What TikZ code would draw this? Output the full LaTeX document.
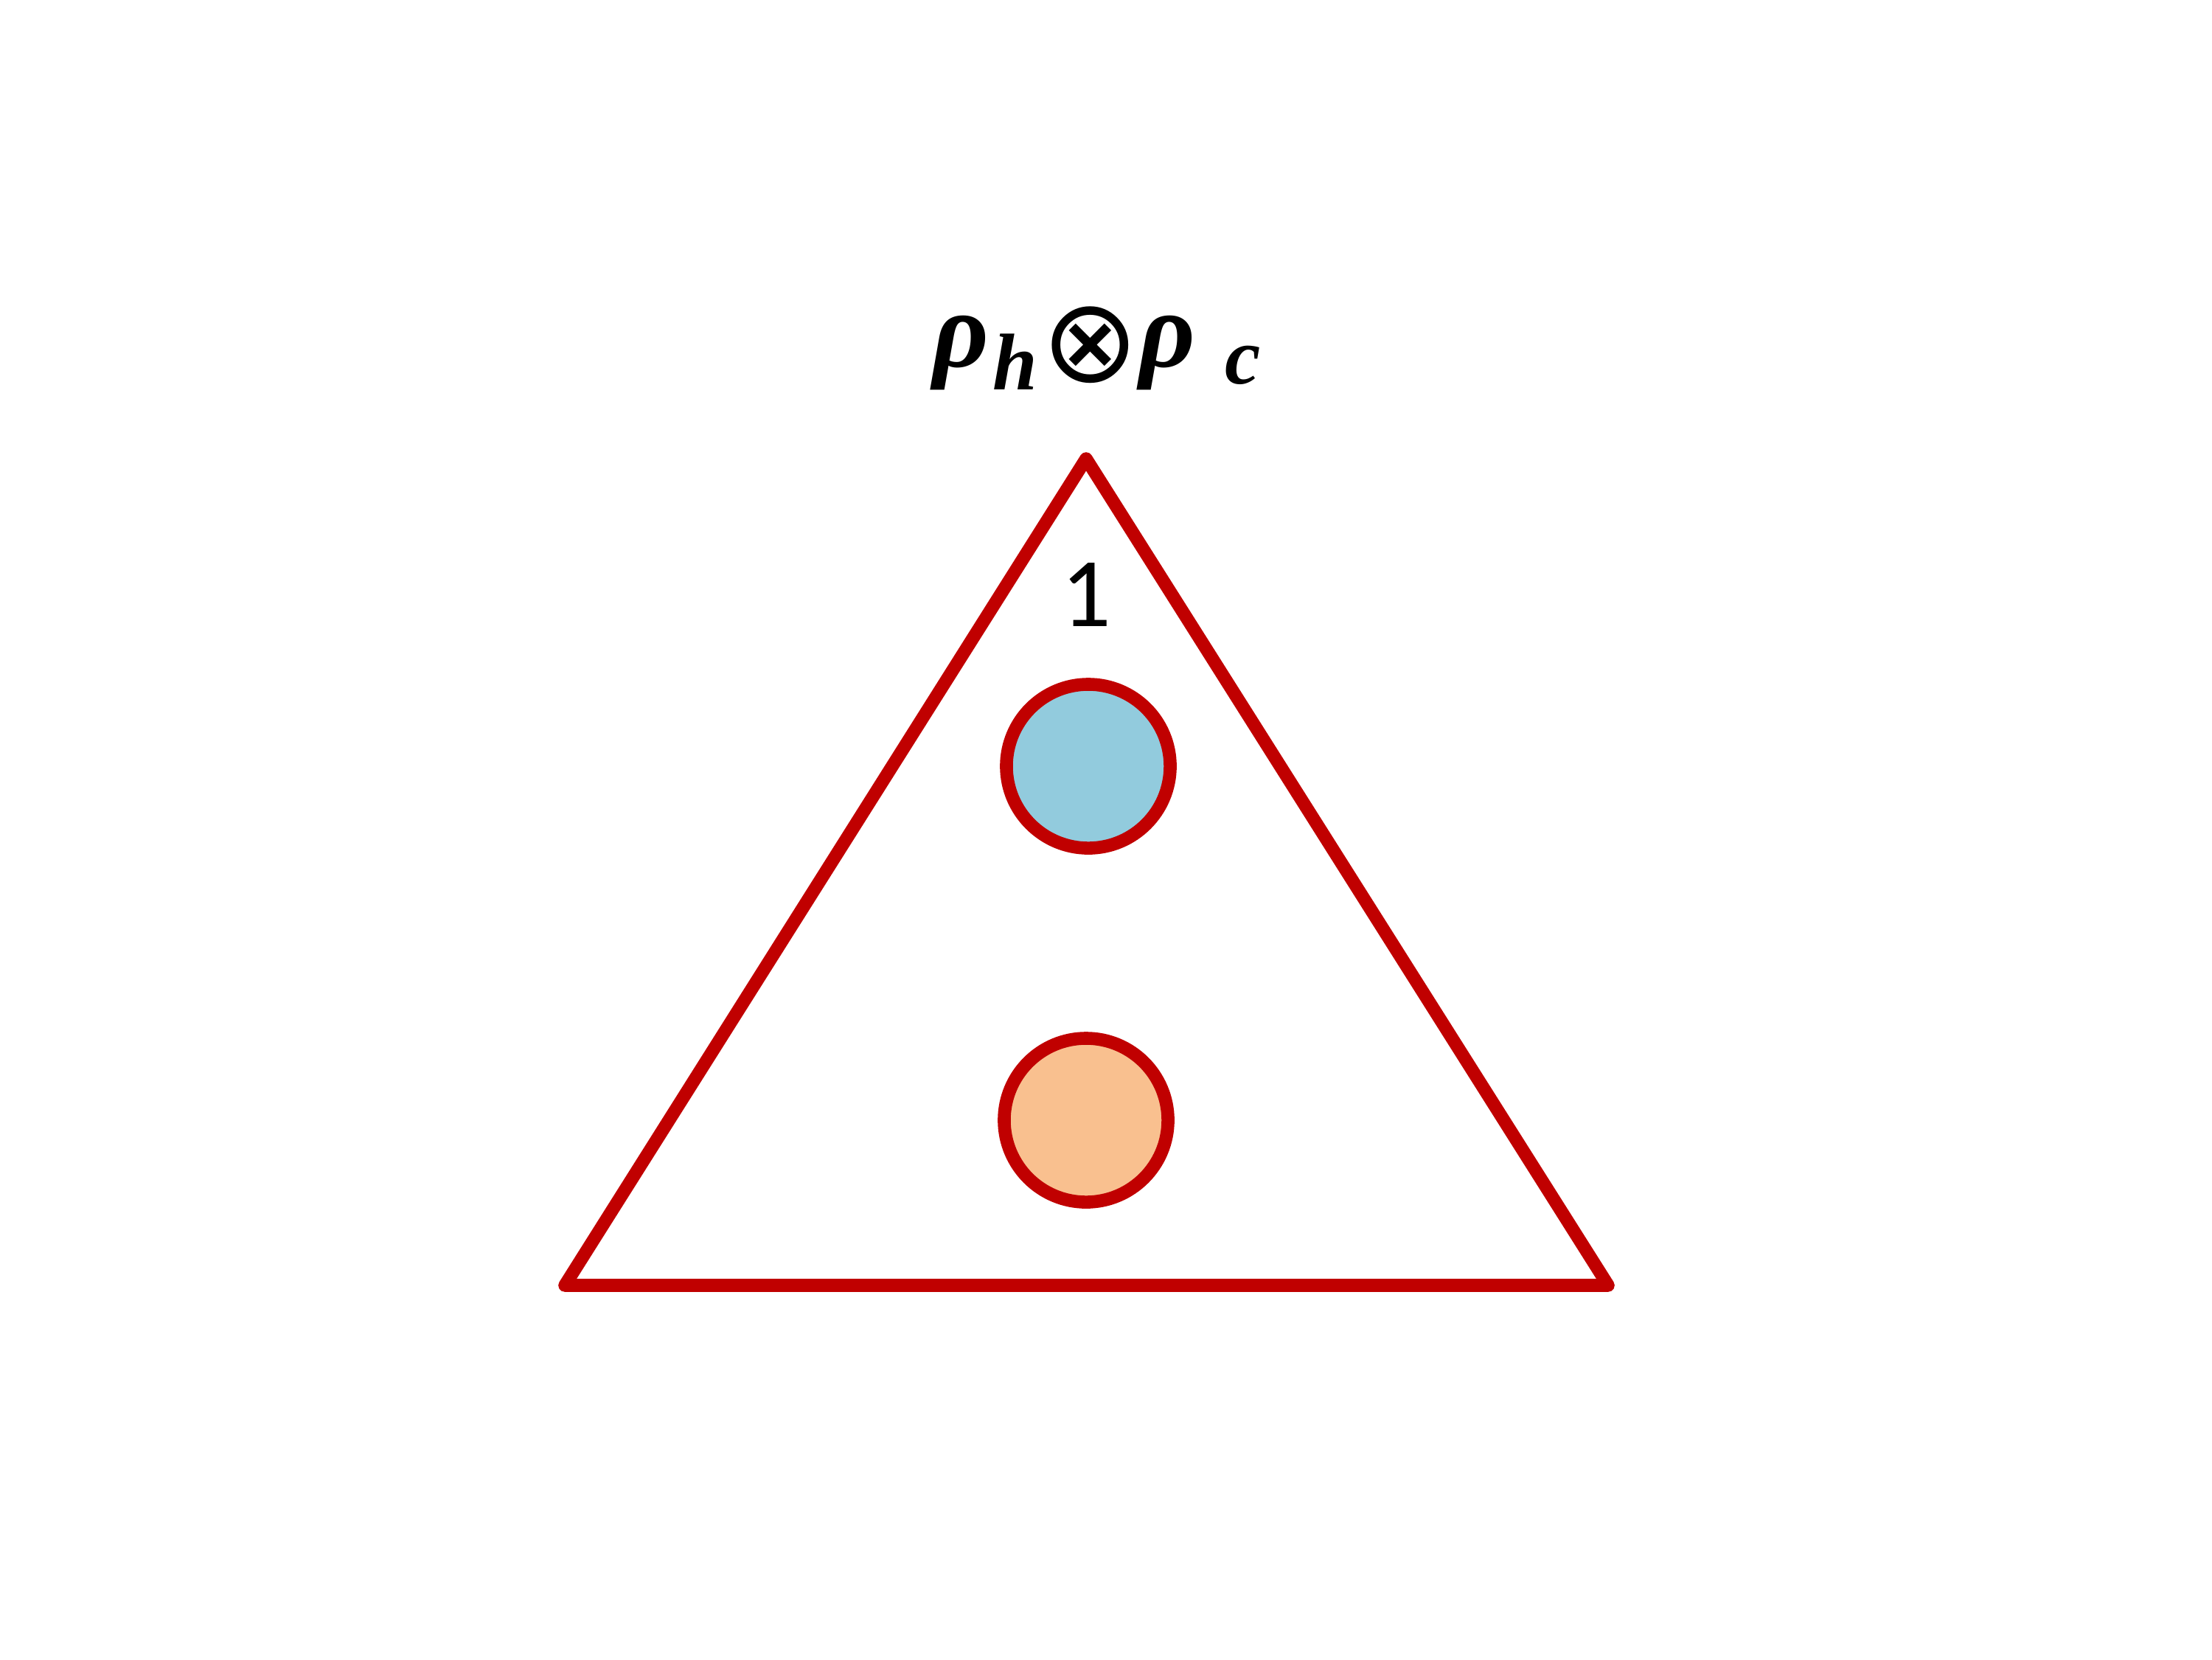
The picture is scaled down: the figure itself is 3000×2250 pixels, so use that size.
\documentclass[tikz,border=0pt]{standalone}
\usepackage{fontspec}
\setmainfont{Carlito}
\newfontfamily\greekfont{Liberation Serif}
\newfontfamily\opfont{DejaVu Sans}
\usepackage{tikz}
\usetikzlibrary{positioning}

\definecolor{trired}{RGB}{192,0,0}
\definecolor{hotblue}{RGB}{146,203,221}
\definecolor{coldorange}{RGB}{249,192,143}

\newcommand{\bigsym}[1]{{\greekfont\bfseries\itshape\fontsize{42}{46}\selectfont #1}}
\newcommand{\subsym}[2]{\raisebox{#1}{\greekfont\bfseries\itshape\fontsize{31}{34}\selectfont #2}}

\begin{document}
\begin{tikzpicture}[x=0.01cm,y=-0.01cm,
    edge/.style={draw=trired,line width=5pt,line join=round,line cap=round},
    ball/.style={circle,draw=trired,line width=5pt,minimum size=2.22cm,inner sep=0pt}]
\useasboundingbox (0,0) rectangle (3000,2250);
% triangle
\coordinate (top) at (1473,622);
\coordinate (left) at (766,1743);
\coordinate (right) at (2181,1743);
\draw[edge] (top) -- (right) -- (left) -- cycle;
% label and balls
\node[anchor=base west,inner sep=0pt] (label) at (1265,497)
  {\bigsym{ρ}\kern0.05cm\subsym{-0.31cm}{h}\kern0.05cm\raisebox{-0.2cm}{\opfont\fontsize{45}{50}\selectfont ⊗}\bigsym{ρ}\hspace{0.4cm}\subsym{-0.23cm}{c}};
\node (num) at (1473,806) {\fontsize{38}{44}\selectfont 1};
\node[ball,fill=hotblue] (hot) at (1476,1039) {};
\node[ball,fill=coldorange] (cold) at (1473,1519) {};
\end{tikzpicture}
\end{document}
